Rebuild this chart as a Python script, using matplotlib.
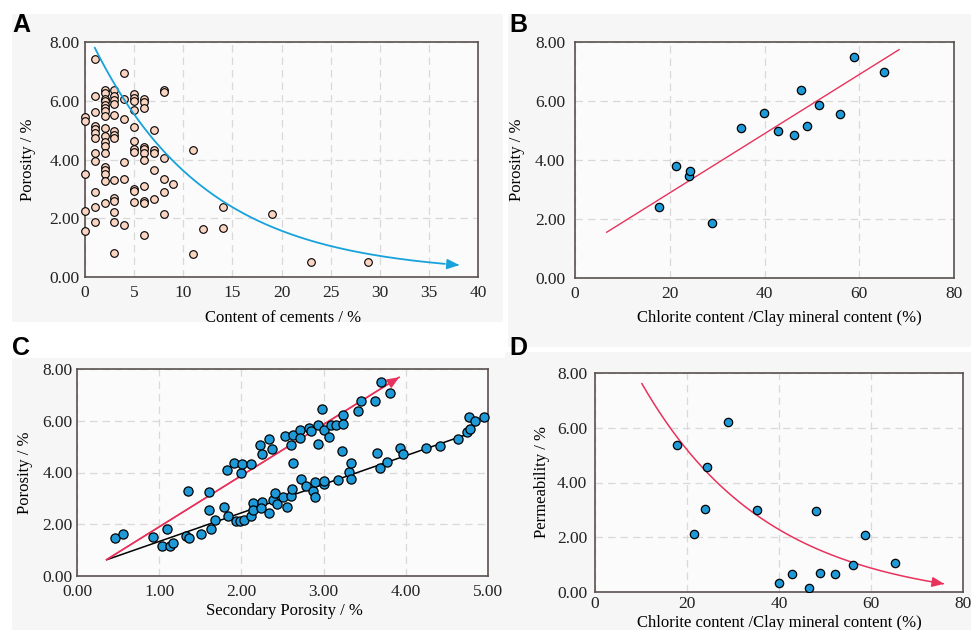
import matplotlib
matplotlib.use("Agg")
import matplotlib.pyplot as plt
import numpy as np
from matplotlib.patches import Rectangle

# A: cement content vs porosity
a_cement = [0, 0, 0, 0, 0,
            1, 1, 1, 1, 1, 1, 1, 1, 1, 1, 1, 1,
            2, 2, 2, 2, 2, 2, 2, 2, 2, 2, 2, 2, 2, 2, 2, 2, 2, 2,
            3, 3, 3, 3, 3, 3, 3, 3, 3, 3, 3, 3, 3, 3,
            4, 4, 4, 4, 4, 4,
            5, 5, 5, 5, 5, 5, 5, 5, 5, 5, 5,
            6, 6, 6, 6, 6, 6, 6, 6, 6, 6, 6,
            7, 7, 7, 7, 7,
            8, 8, 8, 8, 8, 8,
            9, 11, 11, 12, 14, 14, 19, 23, 28.8]
a_porosity = [5.43, 5.31, 3.51, 2.26, 1.58,
              7.42, 6.17, 5.63, 5.14, 5.03, 4.89, 4.74, 4.21, 3.94, 2.91, 2.39, 1.87,
              6.38, 6.27, 6.06, 5.98, 5.87, 5.76, 5.64, 5.49, 5.08, 4.80, 4.59, 4.47, 4.21, 3.76, 3.64, 3.51, 3.27, 2.52,
              6.37, 6.15, 6.04, 5.88, 5.50, 4.97, 4.85, 4.72, 3.30, 2.70, 2.58, 2.21, 1.86, 0.83,
              6.95, 6.05, 5.38, 3.93, 3.35, 1.76,
              6.24, 6.11, 5.98, 5.67, 5.11, 4.64, 4.36, 4.26, 2.99, 2.92, 2.55,
              6.05, 5.97, 5.74, 4.43, 4.37, 4.23, 3.98, 3.11, 2.59, 2.52, 1.44,
              5.01, 4.32, 4.22, 3.64, 2.66,
              6.36, 6.30, 4.05, 3.34, 2.91, 2.16,
              3.18, 4.34, 0.80, 1.65, 2.40, 1.66, 2.16, 0.52, 0.52]
# exponential trend y = a*exp(-b*x) + c
a_trend = (8.4, 0.087, 0.1)
a_trend_x = (1.0, 38.1)

# B: chlorite ratio vs porosity
b_chlorite = [17.7, 21.4, 24.0, 24.3, 29.0, 35.0, 39.9, 42.8, 46.2, 47.7, 48.9, 51.6, 55.9, 58.8, 65.2]
b_porosity = [2.40, 3.79, 3.47, 3.63, 1.86, 5.10, 5.58, 4.99, 4.86, 6.37, 5.14, 5.86, 5.57, 7.49, 6.99]
b_fit = (0.1003, 0.88)
b_fit_x = (6.7, 68.4)

# C: secondary porosity vs porosity
c_secondary = [0.46, 0.56, 0.93, 1.04, 1.09, 1.13, 1.17, 1.33, 1.36, 1.35, 1.51, 1.60, 1.61, 1.63,
               1.68, 1.79, 1.83, 1.84, 1.91, 1.93, 1.98, 1.99, 2.01, 2.03, 2.12, 2.12, 2.14, 2.14,
               2.23, 2.25, 2.25, 2.24, 2.33, 2.34, 2.37, 2.38, 2.41, 2.43, 2.50, 2.53, 2.55, 2.60,
               2.60, 2.62, 2.63, 2.63, 2.71, 2.71, 2.73, 2.78, 2.82, 2.85, 2.87, 2.90, 2.90, 2.93,
               2.93, 2.98, 3.01, 3.00, 3.00, 3.07, 3.09, 3.15, 3.17, 3.22, 3.23, 3.24, 3.31, 3.33,
               3.33, 3.42, 3.46, 3.63, 3.65, 3.69, 3.70, 3.77, 3.81, 3.93, 3.96, 4.25, 4.41, 4.64,
               4.75, 4.77, 4.78, 4.84, 4.95]
c_porosity = [1.46, 1.64, 1.52, 1.15, 1.83, 1.15, 1.29, 1.55, 1.48, 3.28, 1.63, 3.24, 2.54, 1.81,
              2.18, 2.68, 4.08, 2.31, 4.35, 2.13, 2.12, 3.99, 4.34, 2.18, 4.31, 2.31, 2.84, 2.55,
              5.08, 2.85, 4.72, 2.62, 5.30, 2.43, 4.92, 2.94, 3.19, 2.80, 3.05, 5.42, 2.65, 5.07,
              3.11, 3.38, 5.43, 4.37, 5.64, 5.32, 3.73, 3.46, 5.73, 5.60, 3.30, 3.63, 3.05, 5.12,
              5.82, 6.44, 3.55, 3.66, 5.64, 5.39, 5.83, 5.83, 3.70, 4.83, 6.21, 5.87, 4.01, 4.36,
              3.74, 6.37, 6.76, 6.76, 4.75, 4.17, 7.50, 4.39, 7.06, 4.95, 4.70, 4.93, 5.01, 5.28,
              5.55, 6.13, 5.70, 6.00, 6.13]
c_upper_fit = (1.98, -0.08)
c_upper_x = (0.36, 3.92)
c_lower_fit = (1.105, 0.23)
c_lower_x = (0.36, 4.8)

# D: chlorite ratio vs permeability
d_chlorite = [17.8, 21.6, 23.9, 24.4, 29.0, 35.2, 40.1, 42.9, 46.6, 48.0, 48.9, 52.1, 56.1, 58.7, 65.2]
d_perm = [5.36, 2.13, 3.03, 4.57, 6.21, 2.98, 0.34, 0.65, 0.15, 2.95, 0.71, 0.67, 1.00, 2.10, 1.07]
d_trend = (11.67, 0.0364, -0.44)
d_trend_x = (10.2, 75.9)

W, H = 971, 630
fig = plt.figure(figsize=(W / 100, H / 100), dpi=100)
fig.patch.set_facecolor("white")

SERIF = "Liberation Serif"
PEACH = "#fbd4c2"
BLUE = "#1e9ad8"
CYAN = "#17a2dc"
RED = "#e8325c"
FRAME = "#5a5150"


def panel_bg(x0, y0, x1, y1):
    fig.patches.append(Rectangle((x0 / W, 1 - y1 / H), (x1 - x0) / W, (y1 - y0) / H,
                                 transform=fig.transFigure, facecolor="#f6f6f6",
                                 edgecolor="none", zorder=-10))


def px_axes(l, t, r, b):
    return fig.add_axes([l / W, 1 - b / H, (r - l) / W, (b - t) / H])


def style(ax, xticks, yticks, xfmt, xpad, ypad):
    ax.set_facecolor("#fbfbfb")
    for s in ax.spines.values():
        s.set_color(FRAME)
        s.set_linewidth(1.2)
    ax.set_xticks(xticks)
    ax.set_yticks(yticks)
    ax.set_xticklabels([xfmt % v for v in xticks], fontfamily=SERIF, fontsize=12.5)
    ax.set_yticklabels(["%.2f" % v for v in yticks], fontfamily=SERIF, fontsize=12.5)
    ax.tick_params(axis="x", length=0, pad=xpad, colors="#222222")
    ax.tick_params(axis="y", length=0, pad=ypad, colors="#222222")
    ax.grid(True, color="#d9d9d9", linestyle=(0, (6, 4)), linewidth=0.9)
    ax.set_axisbelow(True)
    ax.set_xlim(xticks[0], xticks[-1])
    ax.set_ylim(0, 8)


def labels(ax, xlabel, ylabel, xpos, ypos):
    ax.set_xlabel(xlabel, fontfamily=SERIF, fontsize=12, va="center")
    ax.xaxis.set_label_coords(*xpos)
    ax.set_ylabel(ylabel, fontfamily=SERIF, fontsize=12, va="center")
    ax.yaxis.set_label_coords(*ypos)


def arrow_end(ax, xs, ys, color, lw):
    ax.annotate("", xy=(xs[-1], ys[-1]), xytext=(xs[-2], ys[-2]),
                arrowprops=dict(arrowstyle="-|>,head_length=0.6,head_width=0.25",
                                color=color, lw=lw, shrinkA=0, shrinkB=0,
                                mutation_scale=12))


def letter(x, y, s):
    fig.text(x / W, 1 - y / H, s, fontfamily="Liberation Sans", fontweight="bold",
             fontsize=18, va="top", ha="left")


panel_bg(12, 14, 503, 322)
panel_bg(508, 14, 971, 347)
panel_bg(12, 358, 505, 630)
panel_bg(505, 352, 971, 630)

# ---- A ----
axA = px_axes(85, 42, 478, 277)
style(axA, list(range(0, 41, 5)), [0, 2, 4, 6, 8], "%d", 6, 4)
axA.plot(a_cement, a_porosity, "o", ms=5.5, mfc=PEACH, mec="black", mew=0.8,
         clip_on=False, zorder=3)
xa = np.linspace(a_trend_x[0], a_trend_x[1], 200)
ya = a_trend[0] * np.exp(-a_trend[1] * xa) + a_trend[2]
axA.plot(xa[:-8], ya[:-8], color=CYAN, lw=1.3, zorder=4)
arrow_end(axA, xa[-9:], ya[-9:], CYAN, 1.3)
labels(axA, "Content of cements / %", "Porosity / %", (0.505, -0.175), (-0.146, 0.5))
letter(12, 13, "A")

# ---- B ----
axB = px_axes(575, 42, 954, 278)
style(axB, [0, 20, 40, 60, 80], [0, 2, 4, 6, 8], "%d", 6, 7)
xb = np.array(b_fit_x)
axB.plot(xb, b_fit[0] * xb + b_fit[1], color=RED, lw=1.0, zorder=2)
axB.plot(b_chlorite, b_porosity, "o", ms=6, mfc=BLUE, mec="black", mew=0.9, zorder=3)
labels(axB, "Chlorite content /Clay mineral content (%)", "Porosity / %",
       (0.54, -0.17), (-0.152, 0.5))
letter(509, 13, "B")

# ---- C ----
axC = px_axes(77, 369, 488, 576)
style(axC, [0, 1, 2, 3, 4, 5], [0, 2, 4, 6, 8], "%.2f", 6, 3)
xl = np.array(c_lower_x)
axC.plot(xl, c_lower_fit[0] * xl + c_lower_fit[1], color="black", lw=1.1, zorder=2)
xu = np.array(c_upper_x)
yu = c_upper_fit[0] * xu + c_upper_fit[1]
axC.plot(xu, yu, color=RED, lw=1.1, zorder=2)
arrow_end(axC, xu, yu, RED, 1.1)
axC.plot(c_secondary, c_porosity, "o", ms=6.6, mfc=BLUE, mec="black", mew=0.9,
         clip_on=False, zorder=3)
labels(axC, "Secondary Porosity / %", "Porosity / %", (0.504, -0.17), (-0.127, 0.5))
letter(12, 336, "C")

# ---- D ----
axD = px_axes(595, 373, 963, 592)
style(axD, [0, 20, 40, 60, 80], [0, 2, 4, 6, 8], "%d", 3, 5.5)
xd = np.linspace(d_trend_x[0], d_trend_x[1], 200)
yd = d_trend[0] * np.exp(-d_trend[1] * xd) + d_trend[2]
axD.plot(xd[:-8], yd[:-8], color=RED, lw=1.1, zorder=2)
arrow_end(axD, xd[-9:], yd[-9:], RED, 1.1)
axD.plot(d_chlorite, d_perm, "o", ms=6, mfc=BLUE, mec="black", mew=0.9, zorder=3)
labels(axD, "Chlorite content /Clay mineral content (%)", "Permeability / %",
       (0.50, -0.14), (-0.145, 0.5))
letter(509, 336, "D")

fig.savefig("out.png", dpi=100)
